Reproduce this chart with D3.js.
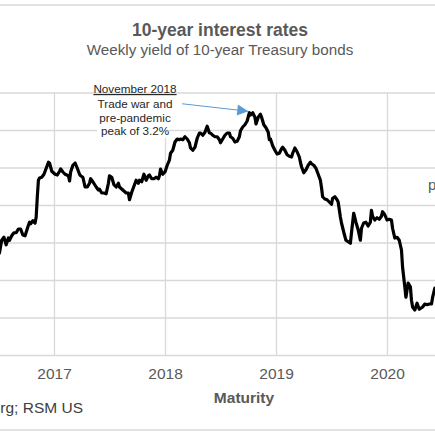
<!DOCTYPE html>
<html>
<head>
<meta charset="utf-8">
<script src="https://cdn.jsdelivr.net/npm/d3@7"></script>
<style>
  html, body { margin: 0; padding: 0; background: #fff; }
  svg { display: block; font-family: "Liberation Sans", Arial, sans-serif; }
</style>
</head>
<body>
<div id="chart"></div>
<script>
// weekly 10-year Treasury yield (decimal years, percent)
const weeks = [
  2016.51, 2016.53, 2016.55, 2016.57, 2016.59, 2016.60, 2016.62, 2016.64, 2016.66, 2016.68,
  2016.70, 2016.72, 2016.74, 2016.77, 2016.78, 2016.79, 2016.81, 2016.83, 2016.84, 2016.85,
  2016.86, 2016.87, 2016.89, 2016.91, 2016.93, 2016.95, 2016.96, 2016.98, 2017.01, 2017.03,
  2017.05, 2017.06, 2017.08, 2017.10, 2017.13, 2017.14, 2017.15, 2017.17, 2017.19, 2017.21,
  2017.23, 2017.24, 2017.26, 2017.28, 2017.30, 2017.32, 2017.33, 2017.35, 2017.38, 2017.40,
  2017.41, 2017.43, 2017.45, 2017.47, 2017.49, 2017.50, 2017.52, 2017.54, 2017.56, 2017.58,
  2017.59, 2017.62, 2017.65, 2017.67, 2017.68, 2017.70, 2017.72, 2017.74, 2017.76, 2017.77,
  2017.79, 2017.81, 2017.83, 2017.85, 2017.86, 2017.88, 2017.90, 2017.92, 2017.94, 2017.95,
  2017.96, 2017.98, 2018.00, 2018.02, 2018.04, 2018.05, 2018.07, 2018.09, 2018.11, 2018.13,
  2018.14, 2018.16, 2018.18, 2018.20, 2018.22, 2018.23, 2018.25, 2018.27, 2018.29, 2018.31,
  2018.32, 2018.34, 2018.36, 2018.38, 2018.40, 2018.41, 2018.43, 2018.45, 2018.47, 2018.49,
  2018.50, 2018.52, 2018.54, 2018.56, 2018.58, 2018.59, 2018.61, 2018.63, 2018.65, 2018.67,
  2018.68, 2018.70, 2018.72, 2018.74, 2018.76, 2018.77, 2018.79, 2018.81, 2018.82, 2018.84,
  2018.86, 2018.87, 2018.89, 2018.91, 2018.93, 2018.94, 2018.95, 2018.97, 2018.99, 2019.01,
  2019.03, 2019.05, 2019.06, 2019.08, 2019.10, 2019.12, 2019.14, 2019.15, 2019.17, 2019.19,
  2019.21, 2019.22, 2019.23, 2019.25, 2019.27, 2019.29, 2019.31, 2019.32, 2019.34, 2019.36,
  2019.38, 2019.40, 2019.41, 2019.42, 2019.44, 2019.46, 2019.48, 2019.50, 2019.51, 2019.53,
  2019.55, 2019.56, 2019.58, 2019.59, 2019.61, 2019.63, 2019.65, 2019.67, 2019.68, 2019.70,
  2019.72, 2019.74, 2019.76, 2019.77, 2019.79, 2019.81, 2019.83, 2019.85, 2019.86, 2019.87,
  2019.89, 2019.91, 2019.93, 2019.95, 2019.96, 2019.98, 2020.00, 2020.02, 2020.04, 2020.05,
  2020.07, 2020.09, 2020.11, 2020.13, 2020.14, 2020.16, 2020.17, 2020.19, 2020.21, 2020.22,
  2020.23, 2020.25, 2020.27, 2020.29, 2020.31, 2020.32, 2020.34, 2020.36, 2020.38, 2020.40,
  2020.41, 2020.43
];
const yields = [
  1.36, 1.53, 1.57, 1.47, 1.56, 1.53, 1.59, 1.63, 1.63, 1.68,
  1.68, 1.60, 1.59, 1.73, 1.77, 1.75, 1.79, 1.76, 1.84, 2.11,
  2.33, 2.36, 2.37, 2.41, 2.49, 2.57, 2.56, 2.45, 2.41, 2.40,
  2.45, 2.48, 2.44, 2.41, 2.39, 2.32, 2.44, 2.53, 2.56, 2.49,
  2.41, 2.39, 2.37, 2.24, 2.24, 2.29, 2.35, 2.31, 2.24, 2.20,
  2.21, 2.16, 2.16, 2.15, 2.29, 2.39, 2.37, 2.27, 2.24, 2.29,
  2.24, 2.20, 2.16, 2.16, 2.07, 2.17, 2.25, 2.33, 2.29, 2.33,
  2.31, 2.41, 2.33, 2.39, 2.40, 2.35, 2.35, 2.37, 2.35, 2.39,
  2.48, 2.41, 2.44, 2.53, 2.60, 2.69, 2.73, 2.84, 2.88, 2.87,
  2.88, 2.87, 2.91, 2.88, 2.83, 2.76, 2.73, 2.77, 2.89, 2.96,
  2.96, 2.93, 2.97, 3.05, 2.96, 2.96, 2.93, 2.91, 2.91, 2.87,
  2.83, 2.88, 2.93, 2.96, 2.96, 2.91, 2.89, 2.84, 2.85, 2.91,
  2.99, 3.04, 3.07, 3.12, 3.23, 3.20, 3.23, 3.17, 3.08, 3.17,
  3.21, 3.17, 3.07, 3.03, 2.97, 2.87, 2.88, 2.79, 2.73, 2.68,
  2.69, 2.75, 2.77, 2.73, 2.67, 2.65, 2.64, 2.69, 2.76, 2.71,
  2.64, 2.57, 2.51, 2.43, 2.47, 2.53, 2.57, 2.55, 2.53, 2.49,
  2.41, 2.33, 2.23, 2.11, 2.08, 2.07, 2.04, 2.01, 2.09, 2.11,
  2.07, 2.04, 1.84, 1.76, 1.64, 1.53, 1.51, 1.49, 1.63, 1.89,
  1.77, 1.67, 1.53, 1.69, 1.76, 1.77, 1.72, 1.77, 1.93, 1.85,
  1.80, 1.83, 1.81, 1.85, 1.91, 1.87, 1.80, 1.81, 1.80, 1.69,
  1.56, 1.57, 1.53, 1.40, 1.17, 0.91, 0.77, 0.96, 0.91, 0.73,
  0.64, 0.60, 0.69, 0.61, 0.63, 0.64, 0.68, 0.67, 0.68, 0.68,
  0.77, 0.89
];
const yearTicks = [2017, 2018, 2019, 2020];
const yTicks = [0, 0.5, 1, 1.5, 2, 2.5, 3, 3.5];
const noteLines = ["November 2018", "Trade war and", "pre-pandemic", "peak of 3.2%"];

const W = 435, H = 435;
const grey = "#595959", gridColor = "#d9d9d9";

function toDate(dec) {
  const y = Math.floor(dec);
  const start = new Date(y, 0, 1), end = new Date(y + 1, 0, 1);
  return new Date(+start + (dec - y) * (end - start));
}

const svg = d3.select("#chart").append("svg")
  .attr("width", W).attr("height", H);

// chart frame borders
svg.append("line").attr("x1", 0).attr("x2", W).attr("y1", 5).attr("y2", 5)
  .attr("stroke", gridColor).attr("stroke-width", 1.5);
svg.append("line").attr("x1", 0).attr("x2", W).attr("y1", 430).attr("y2", 430)
  .attr("stroke", gridColor).attr("stroke-width", 1.5);

const x = d3.scaleTime()
  .domain([new Date(2017, 0, 1), new Date(2020, 0, 1)])
  .range([54, 387]);
const y = d3.scaleLinear().domain([0, 3.5]).range([355, 92.5]);
const plotLeft = -70, plotRight = 520;

// horizontal grid (value labels sit outside the frame, so none drawn)
const yAxis = svg.append("g")
  .attr("transform", `translate(${plotLeft},0)`)
  .call(d3.axisLeft(y).tickValues(yTicks)
    .tickSize(-(plotRight - plotLeft))
    .tickFormat(""));
yAxis.select(".domain").remove();
yAxis.selectAll(".tick line").attr("stroke", gridColor).attr("stroke-width", 1.3);

// vertical grid + year labels
const xAxis = svg.append("g")
  .attr("transform", `translate(0,${y(0)})`)
  .call(d3.axisBottom(x).tickValues(yearTicks.map(yr => new Date(yr, 0, 1)))
    .tickSize(-(y(0) - y(3.5)))
    .tickFormat(d3.timeFormat("%Y")));
xAxis.select(".domain").remove();
xAxis.selectAll(".tick line").attr("stroke", gridColor).attr("stroke-width", 1.3);
xAxis.selectAll(".tick text")
  .attr("y", 24).attr("dy", null)
  .attr("fill", grey).style("font-size", "15.5px");

// yield line
const series = weeks.map((w, i) => ({ date: toDate(w), value: yields[i] }));
svg.append("path")
  .datum(series)
  .attr("fill", "none")
  .attr("stroke", "#000")
  .attr("stroke-width", 3.2)
  .attr("stroke-linejoin", "round")
  .attr("stroke-linecap", "round")
  .attr("d", d3.line().x(d => x(d.date)).y(d => y(d.value)));

// titles
svg.append("text").attr("x", 220).attr("y", 36)
  .attr("text-anchor", "middle").attr("fill", grey)
  .style("font-size", "17.5px").style("font-weight", "bold")
  .text("10-year interest rates");
svg.append("text").attr("x", 220).attr("y", 55)
  .attr("text-anchor", "middle").attr("fill", grey)
  .style("font-size", "15.2px")
  .text("Weekly yield of 10-year Treasury bonds");

// axis title + source
svg.append("text").attr("x", 244).attr("y", 403)
  .attr("text-anchor", "middle").attr("fill", grey)
  .style("font-size", "15.5px").style("font-weight", "bold")
  .text("Maturity");
svg.append("text").attr("x", 83).attr("y", 413)
  .attr("text-anchor", "end").attr("fill", "#404040")
  .style("font-size", "15.5px")
  .text("Source: Bloomberg; RSM US");

// peak annotation
const note = svg.append("g");
note.append("rect").attr("x", 97).attr("y", 95).attr("width", 72).attr("height", 43)
  .attr("fill", "#fff");
note.selectAll("text").data(noteLines).join("text")
  .attr("x", 135)
  .attr("y", (d, i) => i === 0 ? 93 : 108 + (i - 1) * 13.5)
  .attr("text-anchor", "middle")
  .attr("fill", "#262626")
  .style("font-size", "11.7px")
  .style("text-decoration", (d, i) => i === 0 ? "underline" : null)
  .text(d => d);

svg.append("defs").append("marker")
  .attr("id", "arrow")
  .attr("markerUnits", "userSpaceOnUse")
  .attr("viewBox", "0 0 12 12")
  .attr("refX", 12).attr("refY", 6)
  .attr("markerWidth", 12).attr("markerHeight", 11)
  .attr("orient", "auto")
  .append("path").attr("d", "M0,0L12,6L0,12Z").attr("fill", "#5b9bd5");
svg.append("line")
  .attr("x1", x(toDate(2018.153))).attr("y1", y(3.35))
  .attr("x2", x(toDate(2018.75))).attr("y2", y(3.25))
  .attr("stroke", "#5b9bd5").attr("stroke-width", 1)
  .attr("marker-end", "url(#arrow)");

// second annotation, mostly outside the frame
svg.append("text").attr("x", 428).attr("y", 190)
  .attr("fill", grey).style("font-size", "15px")
  .text("pandemic");
</script>
</body>
</html>
